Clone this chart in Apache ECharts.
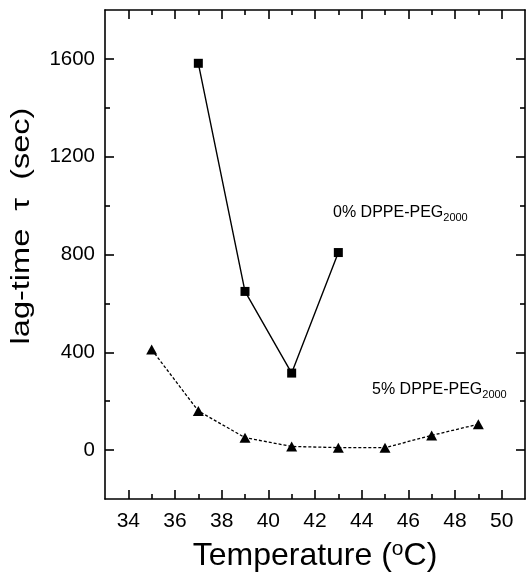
<!DOCTYPE html>
<html>
<head>
<meta charset="utf-8">
<script src="https://cdn.jsdelivr.net/npm/echarts@6/dist/echarts.min.js"></script>
<style>html,body{margin:0;padding:0;background:#fff;}#c{width:526px;height:572px;}</style>
</head>
<body>
<div id="c"></div>
<script>
// Data
var temps0 = [37, 39, 41, 43];
var lag0 = [1582, 649, 315, 808];
var temps5 = [35, 37, 39, 41, 43, 45, 47, 49];
var lag5 = [411, 160, 51, 15, 10, 10, 60, 106];
var xMajorTicks = [34, 36, 38, 40, 42, 44, 46, 48, 50];
var xMinorTicks = [35, 37, 39, 41, 43, 45, 47, 49];
var yMajorTicks = [0, 400, 800, 1200, 1600];
var yMinorTicks = [200, 600, 1000, 1400];
var seriesNames = ['0% DPPE-PEG2000', '5% DPPE-PEG2000'];

function pairs(xs, ys) { return xs.map(function (x, i) { return [x, ys[i]]; }); }

var FONT = 'Liberation Sans, Arial, Helvetica, sans-serif';
var black = '#000';

function xAx(pos, ticks, len, showLine, showLabels) {
  return {
    type: 'value', position: pos, min: 33, max: 51, gridIndex: 0,
    axisLine: { show: showLine, onZero: false, lineStyle: { color: black, width: 1.6 } },
    axisTick: { show: true, inside: true, length: len, customValues: ticks, lineStyle: { color: black, width: 1.6 } },
    axisLabel: { show: showLabels, customValues: ticks, margin: 12, color: black, fontSize: 21, fontFamily: FONT,
      formatter: function (v) { return String(v); } },
    splitLine: { show: false }
  };
}
function yAx(pos, ticks, len, showLine, showLabels) {
  return {
    type: 'value', position: pos, min: -200, max: 1800, gridIndex: 0, offset: 0,
    axisLine: { show: showLine, onZero: false, lineStyle: { color: black, width: 1.6 } },
    axisTick: { show: true, inside: true, length: len, customValues: ticks, lineStyle: { color: black, width: 1.6 } },
    axisLabel: { show: showLabels, customValues: ticks, margin: 10, color: black, fontSize: 20.5, fontFamily: FONT,
      formatter: function (v) { return String(v); } },
    splitLine: { show: false }
  };
}

var xAxes = [
  xAx('bottom', xMajorTicks, 9, true, true),
  xAx('bottom', xMinorTicks, 5, false, false),
  xAx('top', xMajorTicks, 9, true, false),
  xAx('top', xMinorTicks, 5, false, false)
];
xAxes[0].name = 'Temperature ({sup|o}C)';
xAxes[0].nameLocation = 'middle';
xAxes[0].nameGap = 40;
xAxes[0].nameTextStyle = {
  color: black, fontSize: 32, fontFamily: FONT,
  rich: { sup: { fontSize: 21, fontFamily: FONT, color: black, verticalAlign: 'top', lineHeight: 35 } }
};

var yAxes = [
  yAx('left', yMajorTicks, 9, true, true),
  yAx('left', yMinorTicks, 5, false, false),
  yAx('right', yMajorTicks, 9, true, false),
  yAx('right', yMinorTicks, 5, false, false)
];

var chart = echarts.init(document.getElementById('c'), null, { renderer: 'canvas' });
chart.setOption({
  animation: false,
  backgroundColor: '#fff',
  grid: { left: 105, right: 1, top: 10, bottom: 73, containLabel: false, outerBoundsMode: 'none' },
  xAxis: xAxes,
  yAxis: yAxes,
  series: [
    {
      name: seriesNames[0], type: 'line', xAxisIndex: 0, yAxisIndex: 0,
      data: pairs(temps0, lag0),
      symbol: 'rect', symbolSize: 9,
      itemStyle: { color: black },
      lineStyle: { color: black, width: 1.4, type: 'solid' }
    },
    {
      name: seriesNames[1], type: 'line', xAxisIndex: 0, yAxisIndex: 0,
      data: pairs(temps5, lag5),
      symbol: 'triangle', symbolSize: [11, 10],
      itemStyle: { color: black },
      lineStyle: { color: black, width: 1.3, type: [3, 2] }
    }
  ],
  graphic: [
    {
      type: 'text', x: 22, y: 226, rotation: Math.PI / 2, scaleX: 1.3,
      style: { text: 'lag-time  \u03c4  (sec)', fill: black, font: '25px ' + FONT, textAlign: 'center', textVerticalAlign: 'middle' }
    },
    {
      type: 'text', x: 333, y: 203,
      style: {
        text: '0% DPPE-PEG{sub|2000}', fill: black, fontSize: 16, fontFamily: FONT, lineHeight: 20,
        rich: { sub: { fontSize: 11, fontFamily: FONT, fill: black, verticalAlign: 'bottom', lineHeight: 11 } },
        textAlign: 'left', textVerticalAlign: 'top'
      }
    },
    {
      type: 'text', x: 372, y: 380,
      style: {
        text: '5% DPPE-PEG{sub|2000}', fill: black, fontSize: 16, fontFamily: FONT, lineHeight: 20,
        rich: { sub: { fontSize: 11, fontFamily: FONT, fill: black, verticalAlign: 'bottom', lineHeight: 11 } },
        textAlign: 'left', textVerticalAlign: 'top'
      }
    }
  ]
});
</script>
</body>
</html>
